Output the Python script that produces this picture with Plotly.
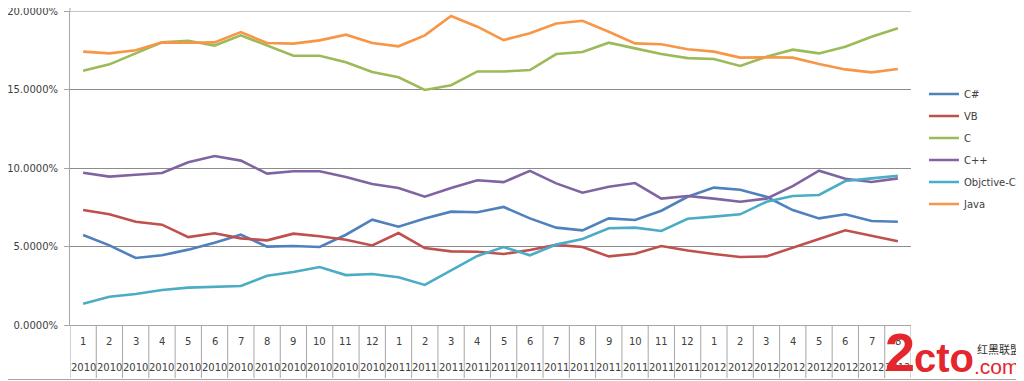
import plotly.graph_objects as go

months = [str(m) for m in list(range(1, 13)) * 2 + list(range(1, 9))]
years = ["2010"] * 12 + ["2011"] * 12 + ["2012"] * 8

series_names = ["C#", "VB", "C", "C++", "Objctive-C", "Java"]
csharp = [5.73, 5.07, 4.27, 4.44, 4.80, 5.24, 5.75, 4.99, 5.03, 4.97, 5.75, 6.71,
          6.26, 6.79, 7.22, 7.18, 7.52, 6.79, 6.20, 6.03, 6.79, 6.69, 7.28, 8.17,
          8.75, 8.62, 8.17, 7.32, 6.79, 7.05, 6.62, 6.58]
vb = [7.32, 7.05, 6.58, 6.39, 5.60, 5.84, 5.52, 5.39, 5.82, 5.65, 5.43, 5.07,
      5.86, 4.90, 4.69, 4.67, 4.52, 4.78, 5.10, 4.97, 4.37, 4.54, 5.03, 4.75,
      4.52, 4.33, 4.37, 4.95, 5.48, 6.03, 5.67, 5.33]
c_lang = [16.20, 16.60, 17.30, 18.00, 18.10, 17.80, 18.45, 17.80, 17.15, 17.15, 16.73, 16.11,
          15.78, 14.97, 15.27, 16.15, 16.15, 16.24, 17.26, 17.39, 17.98, 17.62, 17.26, 17.00,
          16.94, 16.50, 17.09, 17.54, 17.30, 17.73, 18.36, 18.90]
cpp = [9.70, 9.45, 9.57, 9.68, 10.36, 10.76, 10.47, 9.64, 9.79, 9.79, 9.43, 8.98,
       8.73, 8.17, 8.73, 9.22, 9.10, 9.82, 9.02, 8.43, 8.81, 9.04, 8.05, 8.22,
       8.05, 7.85, 8.05, 8.85, 9.83, 9.32, 9.11, 9.34]
objc = [1.36, 1.80, 1.97, 2.23, 2.38, 2.44, 2.48, 3.14, 3.38, 3.69, 3.18, 3.25,
        3.04, 2.55, 3.50, 4.40, 4.96, 4.44, 5.12, 5.48, 6.16, 6.20, 5.99, 6.77,
        6.90, 7.05, 7.85, 8.22, 8.28, 9.17, 9.34, 9.51]
java = [17.41, 17.30, 17.50, 18.00, 17.98, 18.00, 18.66, 17.96, 17.92, 18.13, 18.49, 17.96,
        17.75, 18.45, 19.68, 19.00, 18.15, 18.58, 19.20, 19.38, 18.68, 17.94, 17.88, 17.56,
        17.41, 17.03, 17.05, 17.03, 16.62, 16.28, 16.09, 16.31]
y_ticks = [0, 5, 10, 15, 20]

colors = ["#4F81BD", "#C0504D", "#9BBB59", "#8064A2", "#4BACC6", "#F79646"]
data = [csharp, vb, c_lang, cpp, objc, java]

n = len(months)
xs = list(range(n))

fig = go.Figure()
for name, vals, col in zip(series_names, data, colors):
    fig.add_trace(go.Scatter(x=xs, y=vals, mode="lines", name=name, legendgroup=name,
                             line=dict(color=col, width=2.6)))

FONT = "DejaVu Sans"
TXT = "#404040"
GRAY = "#a6a6a6"
GRID = "#8c8c8c"
O = 8  # page body offset
W, H = 1024 - O, 381 - O
L, T, PW, PH = 70 - O, 11 - O, 843, 314.0


def px(x):  # screen pixel -> paper x
    return (x - O - L) / PW


def py(y):  # screen pixel -> paper y
    return (T + PH - (y - O)) / PH


annotations = []
shapes = []
for i in range(n):
    annotations.append(dict(x=i, y=py(341), xref="x", yref="paper", text=months[i],
                            showarrow=False, font=dict(family=FONT, size=10, color=TXT),
                            xanchor="center", yanchor="middle"))
    annotations.append(dict(x=i, y=py(367), xref="x", yref="paper", text=years[i],
                            showarrow=False, font=dict(family=FONT, size=10, color=TXT),
                            xanchor="center", yanchor="middle"))
for i in range(n + 1):
    shapes.append(dict(type="line", xref="x", yref="paper", x0=i - 0.5, x1=i - 0.5,
                       y0=0, y1=py(378), line=dict(color=GRAY, width=1)))

# y-axis line extends to top edge
shapes.append(dict(type="line", xref="paper", yref="paper", x0=0, x1=0, y0=1, y1=py(-2),
                   line=dict(color=GRAY, width=1)))
# outer chart border (left, bottom, right)
shapes.append(dict(type="rect", xref="paper", yref="paper",
                   x0=px(1.5), x1=px(1022.5), y0=py(379.5), y1=py(-5),
                   line=dict(color=GRAY, width=1)))

# watermark
RED = "#e4262d"
WM = "Liberation Sans"
annotations.append(dict(x=px(885), y=py(384), xref="paper", yref="paper",
                        text="<b>2</b>", showarrow=False, xanchor="left", yanchor="bottom",
                        font=dict(family=WM, size=54, color=RED)))
annotations.append(dict(x=px(914), y=py(382), xref="paper", yref="paper",
                        text="<b>cto</b>", showarrow=False, xanchor="left", yanchor="bottom",
                        font=dict(family=WM, size=40, color=RED)))
annotations.append(dict(x=px(974), y=py(380), xref="paper", yref="paper",
                        text=".com", showarrow=False, xanchor="left", yanchor="bottom",
                        font=dict(family=WM, size=21, color=RED)))
annotations.append(dict(x=px(977), y=py(349), xref="paper", yref="paper",
                        text="红黑联盟", showarrow=False, xanchor="left", yanchor="middle",
                        font=dict(family="Noto Sans CJK SC", size=11, color="#333333")))

fig.update_layout(
    width=W, height=H,
    margin=dict(l=L, r=W - L - PW, t=T, b=H - T - int(PH)),
    paper_bgcolor="white", plot_bgcolor="white",
    showlegend=True,
    legend=dict(x=px(926), y=py(149), xanchor="left", yanchor="middle",
                font=dict(family=FONT, size=10, color=TXT), tracegroupgap=3,
                traceorder="grouped", bgcolor="rgba(0,0,0,0)"),
    xaxis=dict(range=[-0.5, n - 0.5], showticklabels=False, showgrid=False, zeroline=False,
               showline=True, linecolor=GRAY, linewidth=1, ticks="", automargin=False),
    yaxis=dict(range=[0, 20], tickvals=y_ticks,
               ticktext=["%.4f%%" % v for v in y_ticks],
               showgrid=True, gridcolor=GRID, gridwidth=1, zeroline=False,
               showline=True, linecolor=GRAY, linewidth=1, automargin=False,
               ticks="outside", ticklen=5, tickcolor=GRAY, ticklabelstandoff=4,
               ticklabeloverflow="allow",
               tickfont=dict(family=FONT, size=10, color=TXT)),
    annotations=annotations,
    shapes=shapes,
)

# top gridline at 20% (range edge)
fig.add_hline(y=y_ticks[-1], line=dict(color=GRID, width=1), layer="below")

fig.write_html("out.html")
